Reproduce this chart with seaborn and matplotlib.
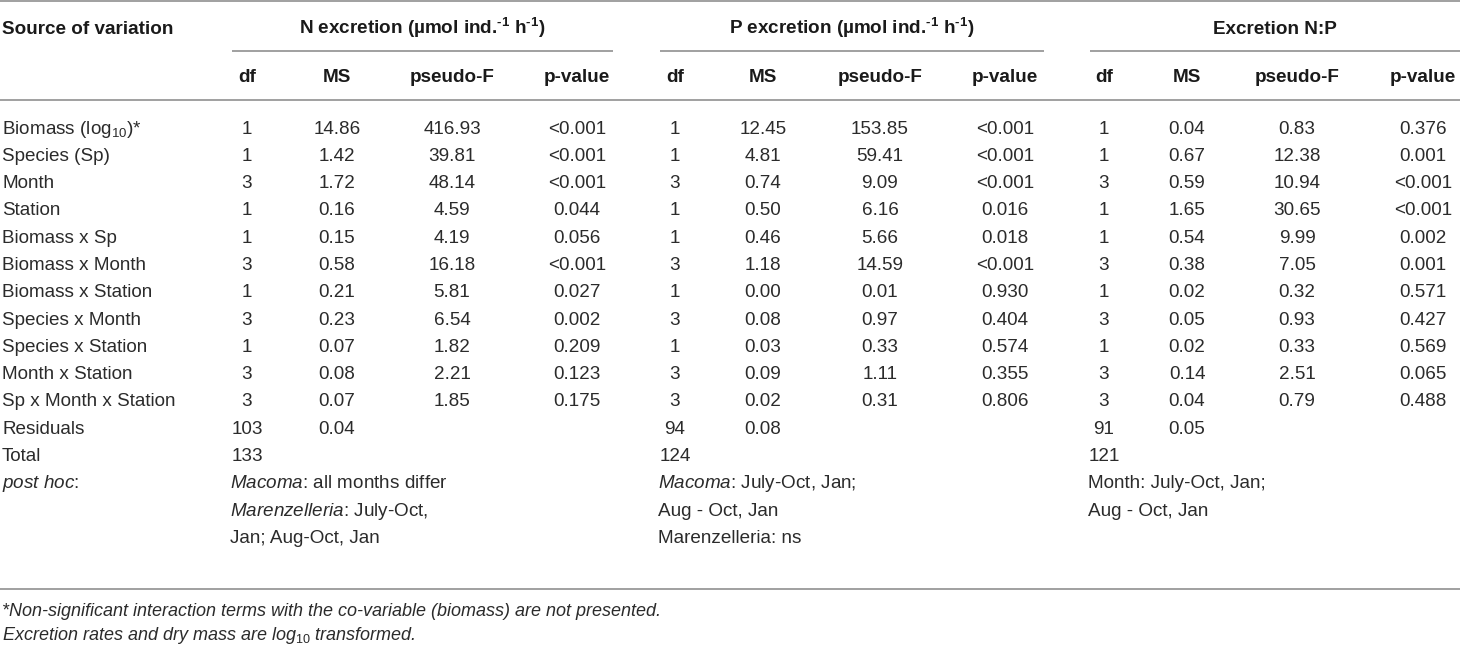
import matplotlib
matplotlib.use("Agg")
import matplotlib.pyplot as plt
import seaborn as sns

# ---- table data ----
sources = ["Biomass (log$_{10}$)*", "Species (Sp)", "Month", "Station", "Biomass x Sp",
           "Biomass x Month", "Biomass x Station", "Species x Month", "Species x Station",
           "Month x Station", "Sp x Month x Station", "Residuals", "Total"]

n_df = ["1", "1", "3", "1", "1", "3", "1", "3", "1", "3", "3", "103", "133"]
n_ms = ["14.86", "1.42", "1.72", "0.16", "0.15", "0.58", "0.21", "0.23", "0.07", "0.08", "0.07", "0.04", ""]
n_f = ["416.93", "39.81", "48.14", "4.59", "4.19", "16.18", "5.81", "6.54", "1.82", "2.21", "1.85", "", ""]
n_p = ["<0.001", "<0.001", "<0.001", "0.044", "0.056", "<0.001", "0.027", "0.002", "0.209", "0.123", "0.175", "", ""]

p_df = ["1", "1", "3", "1", "1", "3", "1", "3", "1", "3", "3", "94", "124"]
p_ms = ["12.45", "4.81", "0.74", "0.50", "0.46", "1.18", "0.00", "0.08", "0.03", "0.09", "0.02", "0.08", ""]
p_f = ["153.85", "59.41", "9.09", "6.16", "5.66", "14.59", "0.01", "0.97", "0.33", "1.11", "0.31", "", ""]
p_p = ["<0.001", "<0.001", "<0.001", "0.016", "0.018", "<0.001", "0.930", "0.404", "0.574", "0.355", "0.806", "", ""]

np_df = ["1", "1", "3", "1", "1", "3", "1", "3", "1", "3", "3", "91", "121"]
np_ms = ["0.04", "0.67", "0.59", "1.65", "0.54", "0.38", "0.02", "0.05", "0.02", "0.14", "0.04", "0.05", ""]
np_f = ["0.83", "12.38", "10.94", "30.65", "9.99", "7.05", "0.32", "0.93", "0.33", "2.51", "0.79", "", ""]
np_p = ["0.376", "0.001", "<0.001", "<0.001", "0.002", "0.001", "0.571", "0.427", "0.569", "0.065", "0.488", "", ""]

# superscript uses a real hyphen (U+2010) so it is not turned into a math minus
group_titles = ["N excretion (µmol ind.$^{\\mathbf{\u20101}}$ h$^{\\mathbf{\u20101}}$)",
                "P excretion (µmol ind.$^{\\mathbf{\u20101}}$ h$^{\\mathbf{\u20101}}$)",
                "Excretion N:P"]
sub_headers = ["df", "MS", "pseudo-F", "p-value"]

posthoc_label = r"$\mathit{post\ hoc}$:"
posthoc_n = [r"$\mathit{Macoma}$: all months differ", r"$\mathit{Marenzelleria}$: July-Oct,", "Jan; Aug-Oct, Jan"]
posthoc_p = [r"$\mathit{Macoma}$: July-Oct, Jan;", "Aug - Oct, Jan", "Marenzelleria: ns"]
posthoc_np = ["Month: July-Oct, Jan;", "Aug - Oct, Jan"]

footnotes = ["*Non-significant interaction terms with the co-variable (biomass) are not presented.",
             r"Excretion rates and dry mass are log$_{\mathit{10}}$ transformed."]

# ---- layout ----
col_x = [[247, 337, 452, 577], [675, 763, 880, 1005], [1104, 1187, 1297, 1423]]
group_span = [(232, 613), (660, 1044), (1090, 1460)]
posthoc_x = [230, 658, 1088]
row0, row_h = 127, 27.3
base_off = 6.5

sns.set_theme(style="white")
plt.rcParams["font.family"] = ["Liberation Sans", "DejaVu Sans"]
plt.rcParams["mathtext.fontset"] = "custom"
plt.rcParams["mathtext.rm"] = "Liberation Sans"
plt.rcParams["mathtext.it"] = "Liberation Sans:italic"
plt.rcParams["mathtext.bf"] = "Liberation Sans:bold"

fig = plt.figure(figsize=(14.6, 6.46), dpi=100)
ax = fig.add_axes([0, 0, 1, 1])
ax.set_xlim(0, 1460)
ax.set_ylim(646, 0)
ax.axis("off")

body = dict(fontsize=13.6, color="#2b2b2b", va="baseline")
head = dict(fontsize=13.6, color="#1a1a1a", va="baseline", fontweight="bold")
line_kw = dict(color="#a0a0a0", lw=1.4)


def row_y(i):
    return row0 + row_h * i + base_off


# rules
ax.hlines([1, 100, 589], 0, 1460, **line_kw)
for x0, x1 in group_span:
    ax.hlines(51, x0, x1, **line_kw)

# header
ax.text(2, 28 + base_off, "Source of variation", ha="left", **head)
for (x0, x1), title in zip(group_span, group_titles):
    ax.text((x0 + x1) / 2, 28 + base_off, title, ha="center", **head)
for cols in col_x:
    for x, h in zip(cols, sub_headers):
        ax.text(x, 76 + base_off, h, ha="center", **head)

# body
groups = [(n_df, n_ms, n_f, n_p), (p_df, p_ms, p_f, p_p), (np_df, np_ms, np_f, np_p)]
for i, src in enumerate(sources):
    ax.text(2, row_y(i), src, ha="left", **body)
    for cols, data in zip(col_x, groups):
        for x, values in zip(cols, data):
            if values[i]:
                ax.text(x, row_y(i), values[i], ha="center", **body)

# post hoc
k = len(sources)
ax.text(2, row_y(k), posthoc_label, ha="left", **body)
for x, lines in zip(posthoc_x, [posthoc_n, posthoc_p, posthoc_np]):
    for j, t in enumerate(lines):
        ax.text(x, row_y(k + j), t, ha="left", **body)

# footnotes
for j, t in enumerate(footnotes):
    ax.text(2, 610 + 24 * j + 6, t, ha="left", fontsize=13.0, color="#2b2b2b",
            style="italic", va="baseline")

fig.savefig("out.png", dpi=100)
